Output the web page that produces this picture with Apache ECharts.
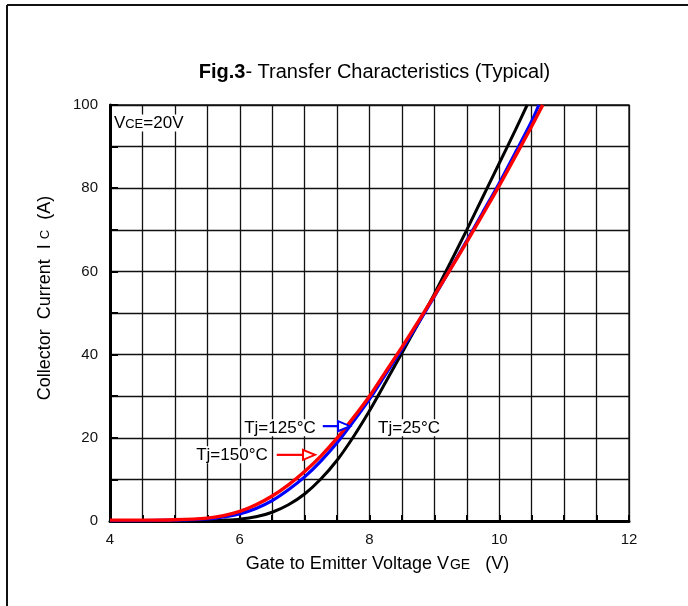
<!DOCTYPE html>
<html>
<head>
<meta charset="utf-8">
<script src="https://cdn.jsdelivr.net/npm/echarts@6/dist/echarts.min.js"></script>
<style>
html,body{margin:0;padding:0;background:#fff;}
#chart{width:688px;height:606px;}
</style>
</head>
<body>
<div id="chart"></div>
<script>
// ---- data ----
const tj25_vge  = [4.0, 5.0, 5.5, 5.75, 6.0, 6.25, 6.5, 6.75, 7.0, 7.25, 7.5, 7.75, 8.0, 8.25, 8.5, 8.75, 9.0, 9.25, 9.5, 9.75, 10.0, 10.25, 10.43];
const tj25_ic   = [0.0, 0.0, 0.05, 0.2, 0.45, 1.0, 2.1, 3.9, 6.5, 10.1, 14.6, 20.2, 26.5, 33.4, 40.4, 47.4, 54.6, 62.2, 70.0, 78.0, 86.0, 94.0, 100];
const tj125_vge = [4.0, 4.5, 5.0, 5.5, 5.75, 6.0, 6.25, 6.5, 6.75, 7.0, 7.25, 7.5, 7.75, 8.0, 8.25, 8.5, 8.75, 9.0, 9.25, 9.5, 9.75, 10.0, 10.25, 10.5, 10.61];
const tj125_ic  = [0.1, 0.1, 0.2, 0.5, 1.0, 1.7, 3.0, 4.9, 7.5, 10.6, 14.4, 18.8, 23.9, 29.3, 35.3, 41.3, 47.5, 54.0, 60.7, 67.4, 74.3, 81.2, 88.6, 96.1, 100];
const tj150_vge = [4.0, 4.5, 5.0, 5.5, 5.75, 6.0, 6.25, 6.5, 6.75, 7.0, 7.25, 7.5, 7.75, 8.0, 8.25, 8.5, 8.75, 9.0, 9.25, 9.5, 9.75, 10.0, 10.25, 10.5, 10.67];
const tj150_ic  = [0.2, 0.2, 0.3, 0.7, 1.3, 2.3, 3.9, 6.0, 8.7, 11.9, 15.6, 19.9, 24.8, 30.0, 35.9, 41.8, 47.9, 54.2, 60.6, 67.1, 73.8, 80.6, 87.7, 94.9, 100];
const seriesNames = ['Tj=25°C', 'Tj=125°C', 'Tj=150°C'];
const xTickLabels = [4, 6, 8, 10, 12];
const yTickLabels = [0, 20, 40, 60, 80, 100];

function zip(a, b) { return a.map((v, i) => [v, b[i]]); }

const FONT = "'Liberation Sans', Arial, sans-serif";
const chart = echarts.init(document.getElementById('chart'), null, {renderer: 'canvas'});

const option = {
  backgroundColor: '#fff',
  animation: false,
  title: {
    text: '{b|Fig.3}{n|- Transfer Characteristics (Typical)}',
    left: 369.5, textAlign: 'center', top: 57,
    textStyle: {
      fontWeight: 'normal',
      rich: {
        b: {fontFamily: FONT, fontSize: 20, fontWeight: 'bold', color: '#000'},
        n: {fontFamily: FONT, fontSize: 20, fontWeight: 'normal', color: '#000'}
      }
    }
  },
  grid: {left: 110, right: 59, top: 105, bottom: 85, show: true, borderColor: '#111', borderWidth: 1.3, backgroundColor: '#fff'},
  xAxis: {
    type: 'value', min: 4, max: 12, interval: 0.5,
    name: 'Gate to Emitter Voltage V{s|GE}   (V)',
    nameLocation: 'middle', nameGap: 34,
    nameTextStyle: {fontFamily: FONT, fontSize: 18, color: '#000', padding: [0, 0, 0, 16],
      rich: {s: {fontFamily: FONT, fontSize: 14, color: '#000', padding: [2, 0, 0, 1]}}},
    axisLine: {show: true, lineStyle: {color: '#000', width: 3}},
    axisTick: {show: true, inside: true, length: 6, lineStyle: {color: '#000', width: 2}},
    axisLabel: {fontFamily: FONT, fontSize: 15, color: '#111', margin: 11,
      formatter: v => (xTickLabels.indexOf(v) >= 0 ? String(v) : '')},
    splitLine: {show: true, lineStyle: {color: '#111', width: 1.3}}
  },
  yAxis: {
    type: 'value', min: 0, max: 100, interval: 10,
    name: 'Collector  Current  I {s|C}  (A)',
    nameLocation: 'middle', nameGap: 56, nameRotate: 90,
    nameTextStyle: {fontFamily: FONT, fontSize: 18, color: '#000', padding: [0, 0, 0, 30],
      rich: {s: {fontFamily: FONT, fontSize: 13, color: '#000'}}},
    axisLine: {show: true, lineStyle: {color: '#000', width: 3}},
    axisTick: {show: true, inside: true, length: 8, lineStyle: {color: '#000', width: 2}},
    axisLabel: {fontFamily: FONT, fontSize: 15, color: '#111', margin: 12,
      formatter: v => (yTickLabels.indexOf(v) >= 0 ? String(v) : '')},
    splitLine: {show: true, lineStyle: {color: '#111', width: 1.3}}
  },
  series: [
    {name: seriesNames[0], type: 'line', smooth: 0.3, showSymbol: false, symbol: 'none', z: 3,
     lineStyle: {color: '#000', width: 3}, data: zip(tj25_vge, tj25_ic)},
    {name: seriesNames[1], type: 'line', smooth: 0.3, showSymbol: false, symbol: 'none', z: 4,
     lineStyle: {color: '#0000ff', width: 3.2}, data: zip(tj125_vge, tj125_ic)},
    {name: seriesNames[2], type: 'line', smooth: 0.3, showSymbol: false, symbol: 'none', z: 5,
     lineStyle: {color: '#ff0000', width: 3.4}, data: zip(tj150_vge, tj150_ic)}
  ]
};
chart.setOption(option);

// annotation anchors in data coordinates
const labelAnchors = [
  {text: 'Tj=125°C', at: [6.62, 22.4]},
  {text: 'Tj=25°C',  at: [8.61, 22.4]},
  {text: 'Tj=150°C', at: [5.88, 15.9]}
];
const arrowAnchors = [
  {from: [7.28, 22.8], to: [7.70, 22.8], color: '#0000ff'},
  {from: [6.57, 15.9], to: [7.16, 15.9], color: '#ff0000'}
];
const vceAnchor = [4.06, 95.7];

const px = p => chart.convertToPixel({gridIndex: 0}, p);
const graphics = [];
// outer frame (top and left edge)
graphics.push({type: 'line', shape: {x1: 7, y1: 5, x2: 688, y2: 5}, style: {stroke: '#111', lineWidth: 2}, z: 50});
graphics.push({type: 'line', shape: {x1: 7, y1: 5, x2: 7, y2: 606}, style: {stroke: '#111', lineWidth: 2}, z: 50});

labelAnchors.forEach(l => {
  const p = px(l.at);
  graphics.push({type: 'text', x: p[0], y: p[1], z: 60,
    style: {text: l.text, fontFamily: FONT, fontSize: 17, fill: '#000', align: 'center', verticalAlign: 'middle',
      backgroundColor: '#fff', padding: [0, 1, 0, 1]}});
});
arrowAnchors.forEach(a => {
  const p1 = px(a.from), p2 = px(a.to);
  const headLen = 12, headHalf = 5;
  graphics.push({type: 'line', z: 60, shape: {x1: p1[0], y1: p1[1], x2: p2[0] - headLen, y2: p2[1]},
    style: {stroke: a.color, lineWidth: 2.2}});
  graphics.push({type: 'polygon', z: 61, shape: {points: [[p2[0] - headLen, p2[1] - headHalf], [p2[0], p2[1]], [p2[0] - headLen, p2[1] + headHalf]]},
    style: {fill: '#fff', stroke: a.color, lineWidth: 2}});
});
const vp = px(vceAnchor);
graphics.push({type: 'text', x: vp[0], y: vp[1], z: 60,
  style: {text: 'V{s|CE}=20V', fontFamily: FONT, fontSize: 17, fill: '#000', align: 'left', verticalAlign: 'middle',
    backgroundColor: '#fff', rich: {s: {fontFamily: FONT, fontSize: 13, fill: '#000', padding: [3, 0, 0, 0]}}}});

chart.setOption({graphic: graphics});
</script>
</body>
</html>
